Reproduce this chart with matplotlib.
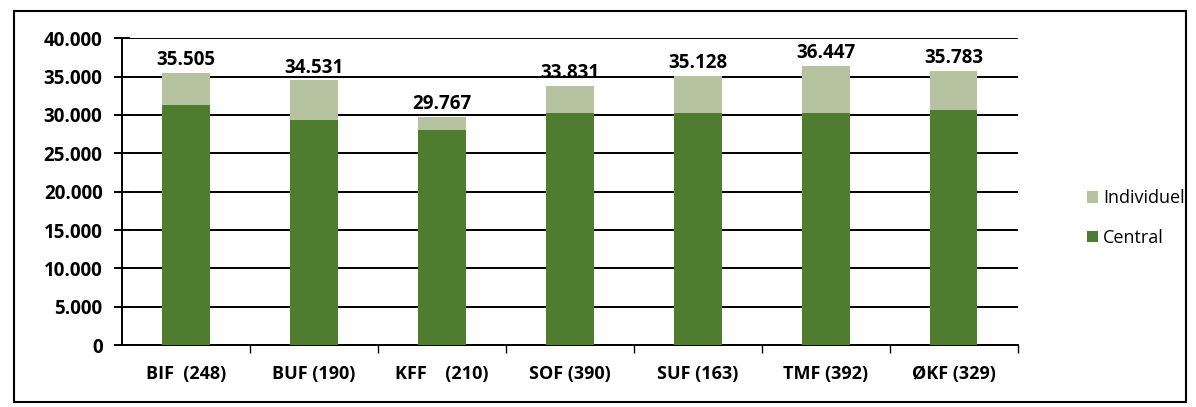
import matplotlib.pyplot as plt
from matplotlib.patches import Rectangle
from matplotlib.ticker import FuncFormatter

# data
kategorier = ['BIF  (248)', 'BUF (190)', 'KFF    (210)', 'SOF (390)', 'SUF (163)', 'TMF (392)', 'ØKF (329)']
total = [35505, 34531, 29767, 33831, 35128, 36447, 35783]
central = [31300, 29300, 28000, 30200, 30200, 30200, 30600]
individuel = [t - c for t, c in zip(total, central)]

farve_central = '#4f7d30'
farve_individuel = '#b7c2a0'

plt.rcParams['font.family'] = ['Open Sans', 'DejaVu Sans']

fig = plt.figure(figsize=(11.96, 4.07), dpi=100)
ax = fig.add_axes([0.102, 0.152, 0.749, 0.754])

x = list(range(len(kategorier)))
ax.bar(x, central, width=0.37, color=farve_central, label='Central', zorder=3)
ax.bar(x, individuel, width=0.37, bottom=central, color=farve_individuel, label='Individuel', zorder=3)

for i, t in enumerate(total):
    ax.text(i, t + 350, f'{t:,}'.replace(',', '.'), ha='center', va='bottom',
            fontsize=13.5, fontweight='bold', zorder=4)

ax.set_xlim(-0.5, len(kategorier) - 0.5)
ax.set_ylim(0, 40000)
ax.set_yticks(range(0, 40001, 5000))
ax.yaxis.set_major_formatter(FuncFormatter(lambda v, p: '0' if v == 0 else f'{int(v):,}'.replace(',', '.')))
ax.yaxis.grid(True, color='black', linewidth=1.4, zorder=1)

ax.set_xticks(x)
ax.set_xticklabels(kategorier, fontsize=13, fontweight='bold')
ax.set_xticks([i + 0.5 for i in x], minor=True)
ax.tick_params(axis='x', which='major', length=0, pad=14)
ax.tick_params(axis='x', which='minor', length=6, width=1, direction='out')
ax.tick_params(axis='y', labelsize=13.5, length=12, width=1.4, direction='inout', pad=8)
for lab in ax.get_yticklabels():
    lab.set_fontweight('bold')

for s in ['top', 'right']:
    ax.spines[s].set_visible(False)
ax.spines['left'].set_linewidth(1.4)
ax.spines['bottom'].set_linewidth(1.4)

h, l = ax.get_legend_handles_labels()
fig.legend(h[::-1], l[::-1], loc='upper left', bbox_to_anchor=(0.895, 0.575),
           frameon=False, fontsize=13, handlelength=0.6, handleheight=0.6,
           handletextpad=0.3, labelspacing=1.2)

# ramme om hele figuren
fig.patches.append(Rectangle((0.012, 0.012), 0.98, 0.962, transform=fig.transFigure,
                             fill=False, edgecolor='black', linewidth=1.5))

fig.savefig('out.png', dpi=100)
